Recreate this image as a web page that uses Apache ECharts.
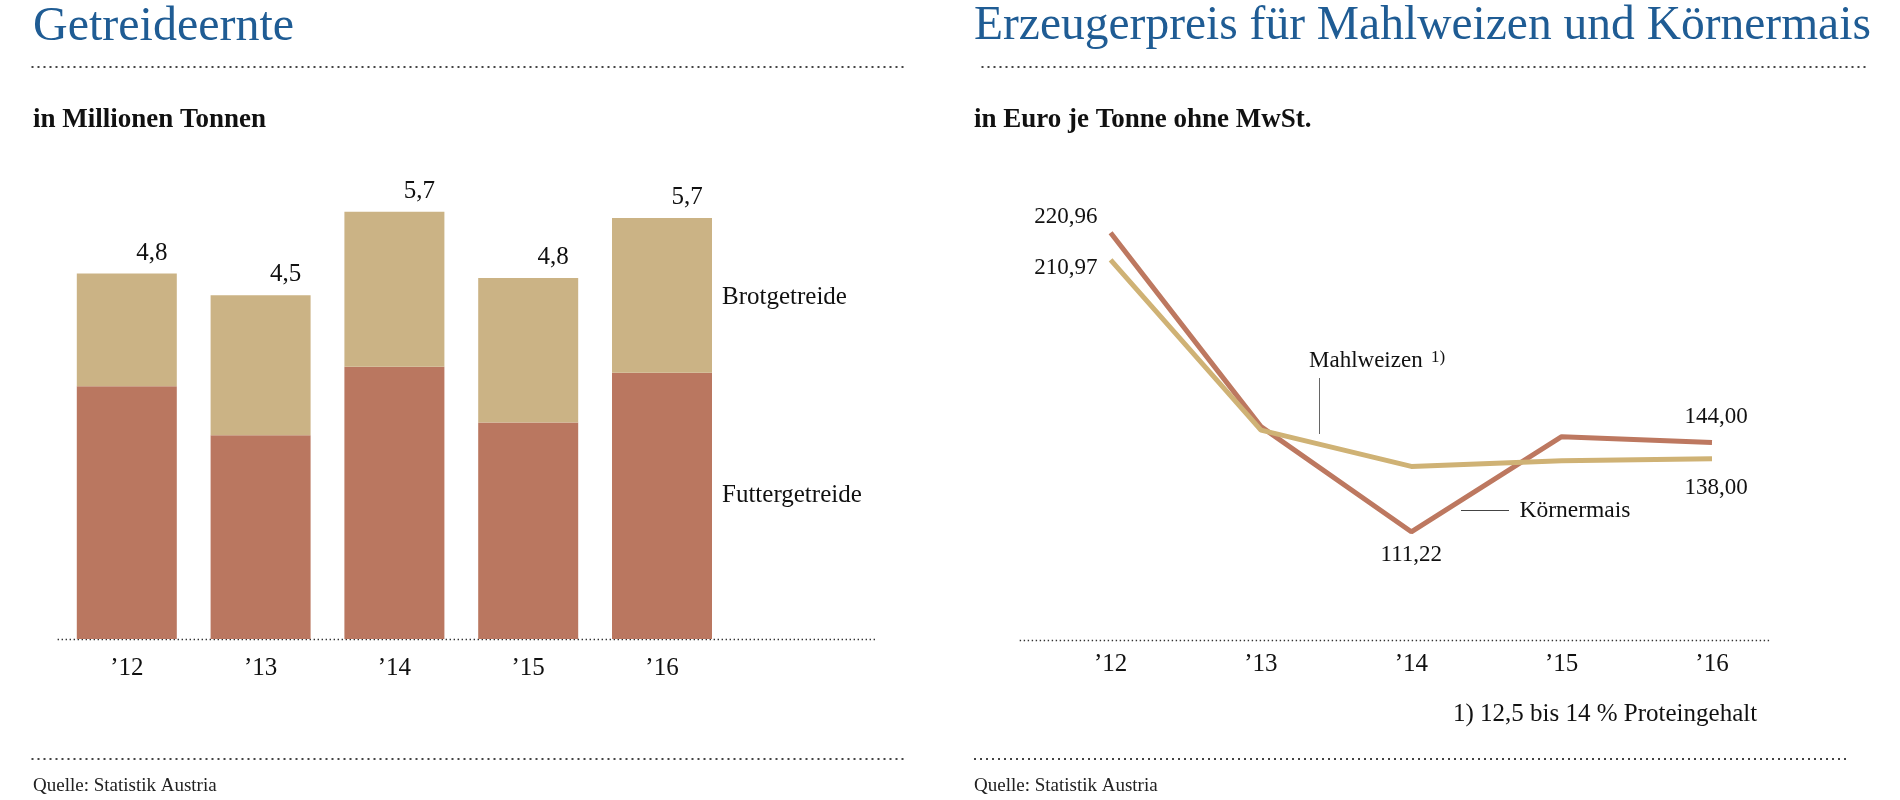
<!DOCTYPE html>
<html>
<head>
<meta charset="utf-8">
<script src="https://cdn.jsdelivr.net/npm/echarts@6/dist/echarts.min.js"></script>
<style>
html,body{margin:0;padding:0;background:#fff;}
#c{width:1900px;height:800px;}
</style>
</head>
<body>
<div id="c"></div>
<script>
// ---- data ----
const years = ['’12', '’13', '’14', '’15', '’16'];
const futtergetreide = [3.36, 2.71, 3.62, 2.88, 3.54];
const brotgetreide = [1.50, 1.86, 2.06, 1.92, 2.06];
const ernteTotalLabels = ['4,8', '4,5', '5,7', '4,8', '5,7'];
const koernermais = [220.96, 149.8, 111.22, 146.1, 144.00];
const mahlweizen = [210.97, 148.5, 135.2, 137.3, 138.00];
const koernermaisLabeled = [0, 2, 4];
const mahlweizenLabeled = [0, 4];

// ---- styling ----
const FONT = '"Liberation Serif", "Times New Roman", serif';
const BLUE = '#1f5c94';
const BAR_RED = '#ba7760';
const BAR_TAN = '#cbb385';
const LINE_RED = '#bd7860';
const LINE_TAN = '#cfb275';
const TXT = '#111';

const fmt = v => v.toFixed(2).replace('.', ',');

function lineData(values, labeled, cfgs) {
  return values.map((v, i) => {
    const k = labeled.indexOf(i);
    if (k < 0) return v;
    return { value: v, label: Object.assign({ show: true, formatter: fmt(v), fontFamily: FONT, fontSize: 23, color: TXT }, cfgs[k]) };
  });
}

const kData = lineData(koernermais, koernermaisLabeled, [
  { position: 'left', distance: 13, offset: [0, -16] },
  { position: 'bottom', distance: 12 },
  { position: 'top', distance: 14, offset: [4, 0] }
]);
const mData = lineData(mahlweizen, mahlweizenLabeled, [
  { position: 'left', distance: 13, offset: [0, 8] },
  { position: 'bottom', distance: 18, offset: [4, 0] }
]);

const futterData = futtergetreide.map((v, i) => i === futtergetreide.length - 1
  ? { value: v, label: { show: true, position: 'right', distance: 10, offset: [0, -10], formatter: 'Futtergetreide', fontFamily: FONT, fontSize: 25, color: TXT } }
  : v);
const brotData = brotgetreide.map((v, i) => i === brotgetreide.length - 1
  ? { value: v, label: { show: true, position: 'right', distance: 10, offset: [0, 2], formatter: 'Brotgetreide', fontFamily: FONT, fontSize: 25, color: TXT } }
  : v);
const totalData = years.map(() => 0);

function dotted(x1, y, x2, w, dash, color) {
  return { type: 'line', silent: true, shape: { x1: x1, y1: y, x2: x2, y2: y }, style: { stroke: color, lineWidth: w, lineDash: dash } };
}
function txt(x, y, text, size, opts) {
  return { type: 'text', x: x, y: y, silent: true, style: Object.assign({ text: text, font: size + 'px ' + FONT, fill: TXT, verticalAlign: 'middle', align: 'left' }, opts || {}) };
}

const chart = echarts.init(document.getElementById('c'), null, { renderer: 'canvas' });
chart.setOption({
  backgroundColor: '#fff',
  animation: false,
  grid: [
    { left: 59.9, width: 669, top: 187.8, bottom: 161 },
    { left: 1110.6, right: 188, top: 208.1, bottom: 160 }
  ],
  xAxis: [
    { type: 'category', gridIndex: 0, data: years, boundaryGap: true,
      axisLine: { show: false }, axisTick: { show: false },
      axisLabel: { fontFamily: FONT, fontSize: 25, color: TXT, margin: 17 } },
    { type: 'category', gridIndex: 1, data: years, boundaryGap: false,
      axisLine: { show: false }, axisTick: { show: false },
      axisLabel: { fontFamily: FONT, fontSize: 25, color: TXT, margin: 12 } }
  ],
  yAxis: [
    { type: 'value', gridIndex: 0, min: 0, max: 6, show: false, splitLine: { show: false } },
    { type: 'value', gridIndex: 1, min: 71.5, max: 230, show: false, splitLine: { show: false } }
  ],
  series: [
    { name: 'Futtergetreide', type: 'bar', stack: 'ernte', xAxisIndex: 0, yAxisIndex: 0, barWidth: 100,
      itemStyle: { color: BAR_RED }, data: futterData },
    { name: 'Brotgetreide', type: 'bar', stack: 'ernte', xAxisIndex: 0, yAxisIndex: 0, barWidth: 100,
      itemStyle: { color: BAR_TAN }, data: brotData },
    { name: 'Gesamt', type: 'bar', stack: 'ernte', xAxisIndex: 0, yAxisIndex: 0, barWidth: 100,
      itemStyle: { color: 'transparent' }, data: totalData,
      label: { show: true, position: 'top', distance: 8, offset: [25, 0], fontFamily: FONT, fontSize: 25, color: TXT,
        formatter: p => ernteTotalLabels[p.dataIndex] } },
    { name: 'Körnermais', type: 'line', xAxisIndex: 1, yAxisIndex: 1, data: kData,
      symbol: 'circle', symbolSize: 0.1, showSymbol: true, z: 3,
      lineStyle: { color: LINE_RED, width: 5 }, itemStyle: { color: LINE_RED } },
    { name: 'Mahlweizen', type: 'line', xAxisIndex: 1, yAxisIndex: 1, data: mData,
      symbol: 'circle', symbolSize: 0.1, showSymbol: true, z: 4,
      lineStyle: { color: LINE_TAN, width: 5 }, itemStyle: { color: LINE_TAN } }
  ],
  graphic: [
    // left panel
    txt(33, 27, 'Getreideernte', 48, { fill: BLUE }),
    dotted(31.5, 67, 906, 1.8, [2, 4], '#444'),
    txt(33, 120, 'in Millionen Tonnen', 27, { font: 'bold 27px ' + FONT }),
    dotted(57.6, 639.5, 877, 1.4, [1.4, 2.6], '#333'),
    dotted(31.5, 759, 907, 1.8, [2, 4], '#444'),
    txt(33, 786, 'Quelle: Statistik Austria', 19, { fill: '#222' }),
    // right panel
    txt(974, 27, 'Erzeugerpreis für Mahlweizen und Körnermais', 47.5, { fill: BLUE }),
    dotted(981.5, 67, 1868, 1.8, [2, 4], '#444'),
    txt(974, 120, 'in Euro je Tonne ohne MwSt.', 27, { font: 'bold 27px ' + FONT }),
    dotted(1019.7, 640.5, 1769.4, 1.4, [1.4, 2.6], '#333'),
    txt(1309, 361, 'Mahlweizen', 23),
    txt(1431, 358, '1)', 17),
    { type: 'line', silent: true, shape: { x1: 1319.5, y1: 378, x2: 1319.5, y2: 434 }, style: { stroke: '#666', lineWidth: 1 } },
    { type: 'line', silent: true, shape: { x1: 1461, y1: 510.5, x2: 1509, y2: 510.5 }, style: { stroke: '#444', lineWidth: 1 } },
    txt(1519.5, 511, 'Körnermais', 23.5),
    txt(1453, 714, '1) 12,5 bis 14 % Proteingehalt', 25),
    dotted(974, 759, 1850, 1.8, [2, 4], '#444'),
    txt(974, 786, 'Quelle: Statistik Austria', 19, { fill: '#222' })
  ]
});
</script>
</body>
</html>
